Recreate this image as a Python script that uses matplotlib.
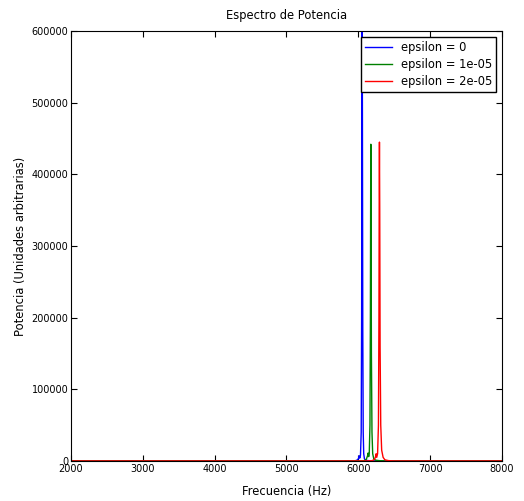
import numpy as np
import matplotlib.pyplot as plt

freq_0 = [2000, 5900, 5960, 5990, 6005, 6012, 6020, 6030, 6040, 6046, 6050, 6053,
          6057, 6062, 6068, 6075, 6085, 6100, 6150, 6250, 8000]
pow_0 = [0, 0, 300, 1500, 4000, 7000, 4000, 8000, 40000, 200000, 500000, 650000,
         480000, 180000, 40000, 10000, 3000, 1000, 300, 0, 0]

freq_1 = [2000, 6000, 6080, 6110, 6128, 6136, 6144, 6152, 6162, 6168, 6172, 6174,
          6177, 6182, 6190, 6200, 6215, 6240, 6300, 6400, 8000]
pow_1 = [0, 0, 300, 2000, 7000, 11000, 6000, 10000, 50000, 200000, 380000, 442000,
         350000, 150000, 40000, 10000, 3000, 1000, 300, 0, 0]

freq_2 = [2000, 6100, 6190, 6225, 6240, 6248, 6256, 6268, 6280, 6287, 6291, 6294,
          6298, 6303, 6312, 6325, 6345, 6370, 6420, 6500, 8000]
pow_2 = [0, 0, 300, 2000, 6000, 10000, 5000, 10000, 50000, 200000, 380000, 445000,
         350000, 160000, 50000, 15000, 5000, 1500, 400, 0, 0]

labels = ['epsilon = 0', 'epsilon = 1e-05', 'epsilon = 2e-05']

fig = plt.figure(figsize=(5.24, 5.01), dpi=100)
ax = fig.add_axes([0.1355, 0.080, 0.8225, 0.858])

ax.plot(freq_0, pow_0, color='b', lw=1.0, label=labels[0])
ax.plot(freq_1, pow_1, color='g', lw=1.0, label=labels[1])
ax.plot(freq_2, pow_2, color='r', lw=1.0, label=labels[2])

ax.set_xlim(2000, 8000)
ax.set_ylim(0, 600000)
ax.set_xticks(np.arange(2000, 8001, 1000))
ax.set_yticks(np.arange(0, 600001, 100000))
ax.tick_params(direction='in', top=True, right=True, labelsize=7, length=4, pad=2)

ax.set_title('Espectro de Potencia', fontsize=8.3, pad=9)
ax.set_xlabel('Frecuencia (Hz)', fontsize=8.3, labelpad=8)
ax.set_ylabel('Potencia (Unidades arbitrarias)', fontsize=8.3, labelpad=3)

leg = ax.legend(loc='upper right', fontsize=8.3, fancybox=False, framealpha=1,
                borderaxespad=0.5, handlelength=2.3, labelspacing=0.35,
                borderpad=0.35)
leg.get_frame().set_edgecolor('black')

fig.savefig('out.png', dpi=100)
